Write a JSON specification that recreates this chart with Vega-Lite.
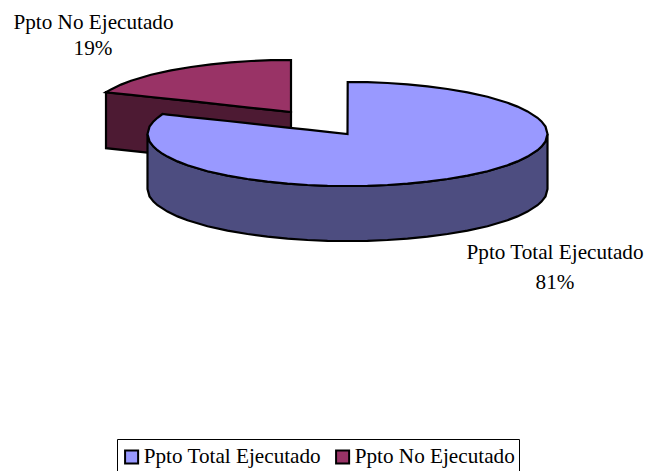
{"$schema":"https://vega.github.io/schema/vega-lite/v6.json","width":645,"height":471,"padding":0,"autosize":{"type":"none"},"background":"white","config":{"view":{"stroke":null}},
"datasets":{
"redSide":[{"x":-120.75,"y":20.9,"y2":-7.1},{"x":-28.25,"y":11,"y2":-17}],
"redTop":[{"series":"Ppto No Ejecutado","x":-120.75,"y":20.9,"y2":20.9},{"series":"Ppto No Ejecutado","x":-118.25,"y":22.3,"y2":20.6},{"series":"Ppto No Ejecutado","x":-113.25,"y":24.7,"y2":20.1},{"series":"Ppto No Ejecutado","x":-108.25,"y":26.6,"y2":19.6},{"series":"Ppto No Ejecutado","x":-98.25,"y":29.6,"y2":18.5},{"series":"Ppto No Ejecutado","x":-88.25,"y":31.8,"y2":17.4},{"series":"Ppto No Ejecutado","x":-78.25,"y":33.5,"y2":16.4},{"series":"Ppto No Ejecutado","x":-68.25,"y":34.8,"y2":15.3},{"series":"Ppto No Ejecutado","x":-58.25,"y":35.8,"y2":14.2},{"series":"Ppto No Ejecutado","x":-48.25,"y":36.5,"y2":13.1},{"series":"Ppto No Ejecutado","x":-38.25,"y":36.9,"y2":12.1},{"series":"Ppto No Ejecutado","x":-28.25,"y":37,"y2":11}],
"blueSide":[{"x":-100,"y":0,"y2":-27.5},{"x":-99,"y":-3.7,"y2":-31.2},{"x":-97,"y":-6.3,"y2":-33.8},{"x":-95,"y":-8.1,"y2":-35.6},{"x":-90,"y":-11.3,"y2":-38.8},{"x":-85,"y":-13.7,"y2":-41.2},{"x":-80,"y":-15.6,"y2":-43.1},{"x":-70,"y":-18.6,"y2":-46.1},{"x":-60,"y":-20.8,"y2":-48.3},{"x":-50,"y":-22.5,"y2":-50},{"x":-40,"y":-23.8,"y2":-51.3},{"x":-30,"y":-24.8,"y2":-52.3},{"x":-20,"y":-25.5,"y2":-53},{"x":-10,"y":-25.9,"y2":-53.4},{"x":0,"y":-26,"y2":-53.5},{"x":10,"y":-25.9,"y2":-53.4},{"x":20,"y":-25.5,"y2":-53},{"x":30,"y":-24.8,"y2":-52.3},{"x":40,"y":-23.8,"y2":-51.3},{"x":50,"y":-22.5,"y2":-50},{"x":60,"y":-20.8,"y2":-48.3},{"x":70,"y":-18.6,"y2":-46.1},{"x":80,"y":-15.6,"y2":-43.1},{"x":85,"y":-13.7,"y2":-41.2},{"x":90,"y":-11.3,"y2":-38.8},{"x":95,"y":-8.1,"y2":-35.6},{"x":97,"y":-6.3,"y2":-33.8},{"x":99,"y":-3.7,"y2":-31.2},{"x":100,"y":0,"y2":-27.5}],
"blueTop":[{"series":"Ppto Total Ejecutado","x":-100,"y":0,"y2":0},{"series":"Ppto Total Ejecutado","x":-99,"y":3.7,"y2":-3.7},{"series":"Ppto Total Ejecutado","x":-97,"y":6.3,"y2":-6.3},{"series":"Ppto Total Ejecutado","x":-95,"y":8.1,"y2":-8.1},{"series":"Ppto Total Ejecutado","x":-92.5,"y":10,"y2":-9.9},{"series":"Ppto Total Ejecutado","x":-90,"y":9.7,"y2":-11.3},{"series":"Ppto Total Ejecutado","x":-85,"y":9.2,"y2":-13.7},{"series":"Ppto Total Ejecutado","x":-80,"y":8.6,"y2":-15.6},{"series":"Ppto Total Ejecutado","x":-70,"y":7.6,"y2":-18.6},{"series":"Ppto Total Ejecutado","x":-60,"y":6.5,"y2":-20.8},{"series":"Ppto Total Ejecutado","x":-50,"y":5.4,"y2":-22.5},{"series":"Ppto Total Ejecutado","x":-40,"y":4.3,"y2":-23.8},{"series":"Ppto Total Ejecutado","x":-30,"y":3.2,"y2":-24.8},{"series":"Ppto Total Ejecutado","x":-20,"y":2.2,"y2":-25.5},{"series":"Ppto Total Ejecutado","x":-10,"y":1.1,"y2":-25.9},{"series":"Ppto Total Ejecutado","x":0,"y":0,"y2":-26},{"series":"Ppto Total Ejecutado","x":0.1,"y":26,"y2":-26},{"series":"Ppto Total Ejecutado","x":10,"y":25.9,"y2":-25.9},{"series":"Ppto Total Ejecutado","x":20,"y":25.5,"y2":-25.5},{"series":"Ppto Total Ejecutado","x":30,"y":24.8,"y2":-24.8},{"series":"Ppto Total Ejecutado","x":40,"y":23.8,"y2":-23.8},{"series":"Ppto Total Ejecutado","x":50,"y":22.5,"y2":-22.5},{"series":"Ppto Total Ejecutado","x":60,"y":20.8,"y2":-20.8},{"series":"Ppto Total Ejecutado","x":70,"y":18.6,"y2":-18.6},{"series":"Ppto Total Ejecutado","x":80,"y":15.6,"y2":-15.6},{"series":"Ppto Total Ejecutado","x":85,"y":13.7,"y2":-13.7},{"series":"Ppto Total Ejecutado","x":90,"y":11.3,"y2":-11.3},{"series":"Ppto Total Ejecutado","x":95,"y":8.1,"y2":-8.1},{"series":"Ppto Total Ejecutado","x":97,"y":6.3,"y2":-6.3},{"series":"Ppto Total Ejecutado","x":99,"y":3.7,"y2":-3.7},{"series":"Ppto Total Ejecutado","x":100,"y":0,"y2":0}],
"labels":[{"label":"Ppto No Ejecutado","x":-127,"y":55.5},{"label":"19%","x":-127.25,"y":42.5},{"label":"Ppto Total Ejecutado","x":103.75,"y":-59.5},{"label":"81%","x":103.75,"y":-74.5}]
},
"encoding":{
"x":{"field":"x","type":"quantitative","axis":null,"scale":{"domain":[-173.75,148.75],"nice":false,"zero":false}},
"y":{"field":"y","type":"quantitative","axis":null,"scale":{"domain":[-168.5,67],"nice":false,"zero":false}}
},
"layer":[
{"data":{"name":"redSide"},"mark":{"type":"area","fill":"#4D1A33","stroke":"black","strokeWidth":2.2,"strokeJoin":"miter"},"encoding":{"y2":{"field":"y2"}}},
{"data":{"name":"redTop"},"mark":{"type":"area","stroke":"black","strokeWidth":2.2,"strokeJoin":"miter"},"encoding":{"y2":{"field":"y2"},"color":{"field":"series","type":"nominal","scale":{"domain":["Ppto Total Ejecutado","Ppto No Ejecutado"],"range":["#9999FF","#993366"]},"legend":{"title":null,"orient":"none","legendX":117,"legendY":439,"direction":"horizontal","columns":2,"symbolType":"square","symbolSize":170,"symbolStrokeColor":"black","symbolStrokeWidth":2,"labelFont":"Liberation Serif","labelFontSize":21.2,"labelColor":"black","labelLimit":300,"labelOffset":1.5,"columnPadding":10,"clipHeight":28,"strokeColor":"black","padding":4,"fillColor":"white"}}}},
{"data":{"name":"blueSide"},"mark":{"type":"area","fill":"#4D4D80","stroke":"black","strokeWidth":2.2,"strokeJoin":"miter"},"encoding":{"y2":{"field":"y2"}}},
{"data":{"name":"blueTop"},"mark":{"type":"area","stroke":"black","strokeWidth":2.2,"strokeJoin":"miter"},"encoding":{"y2":{"field":"y2"},"color":{"field":"series","type":"nominal"}}},
{"data":{"name":"labels"},"mark":{"type":"text","font":"Liberation Serif","fontSize":21.2,"color":"black","align":"center","baseline":"middle"},"encoding":{"text":{"field":"label"}}}
]}
